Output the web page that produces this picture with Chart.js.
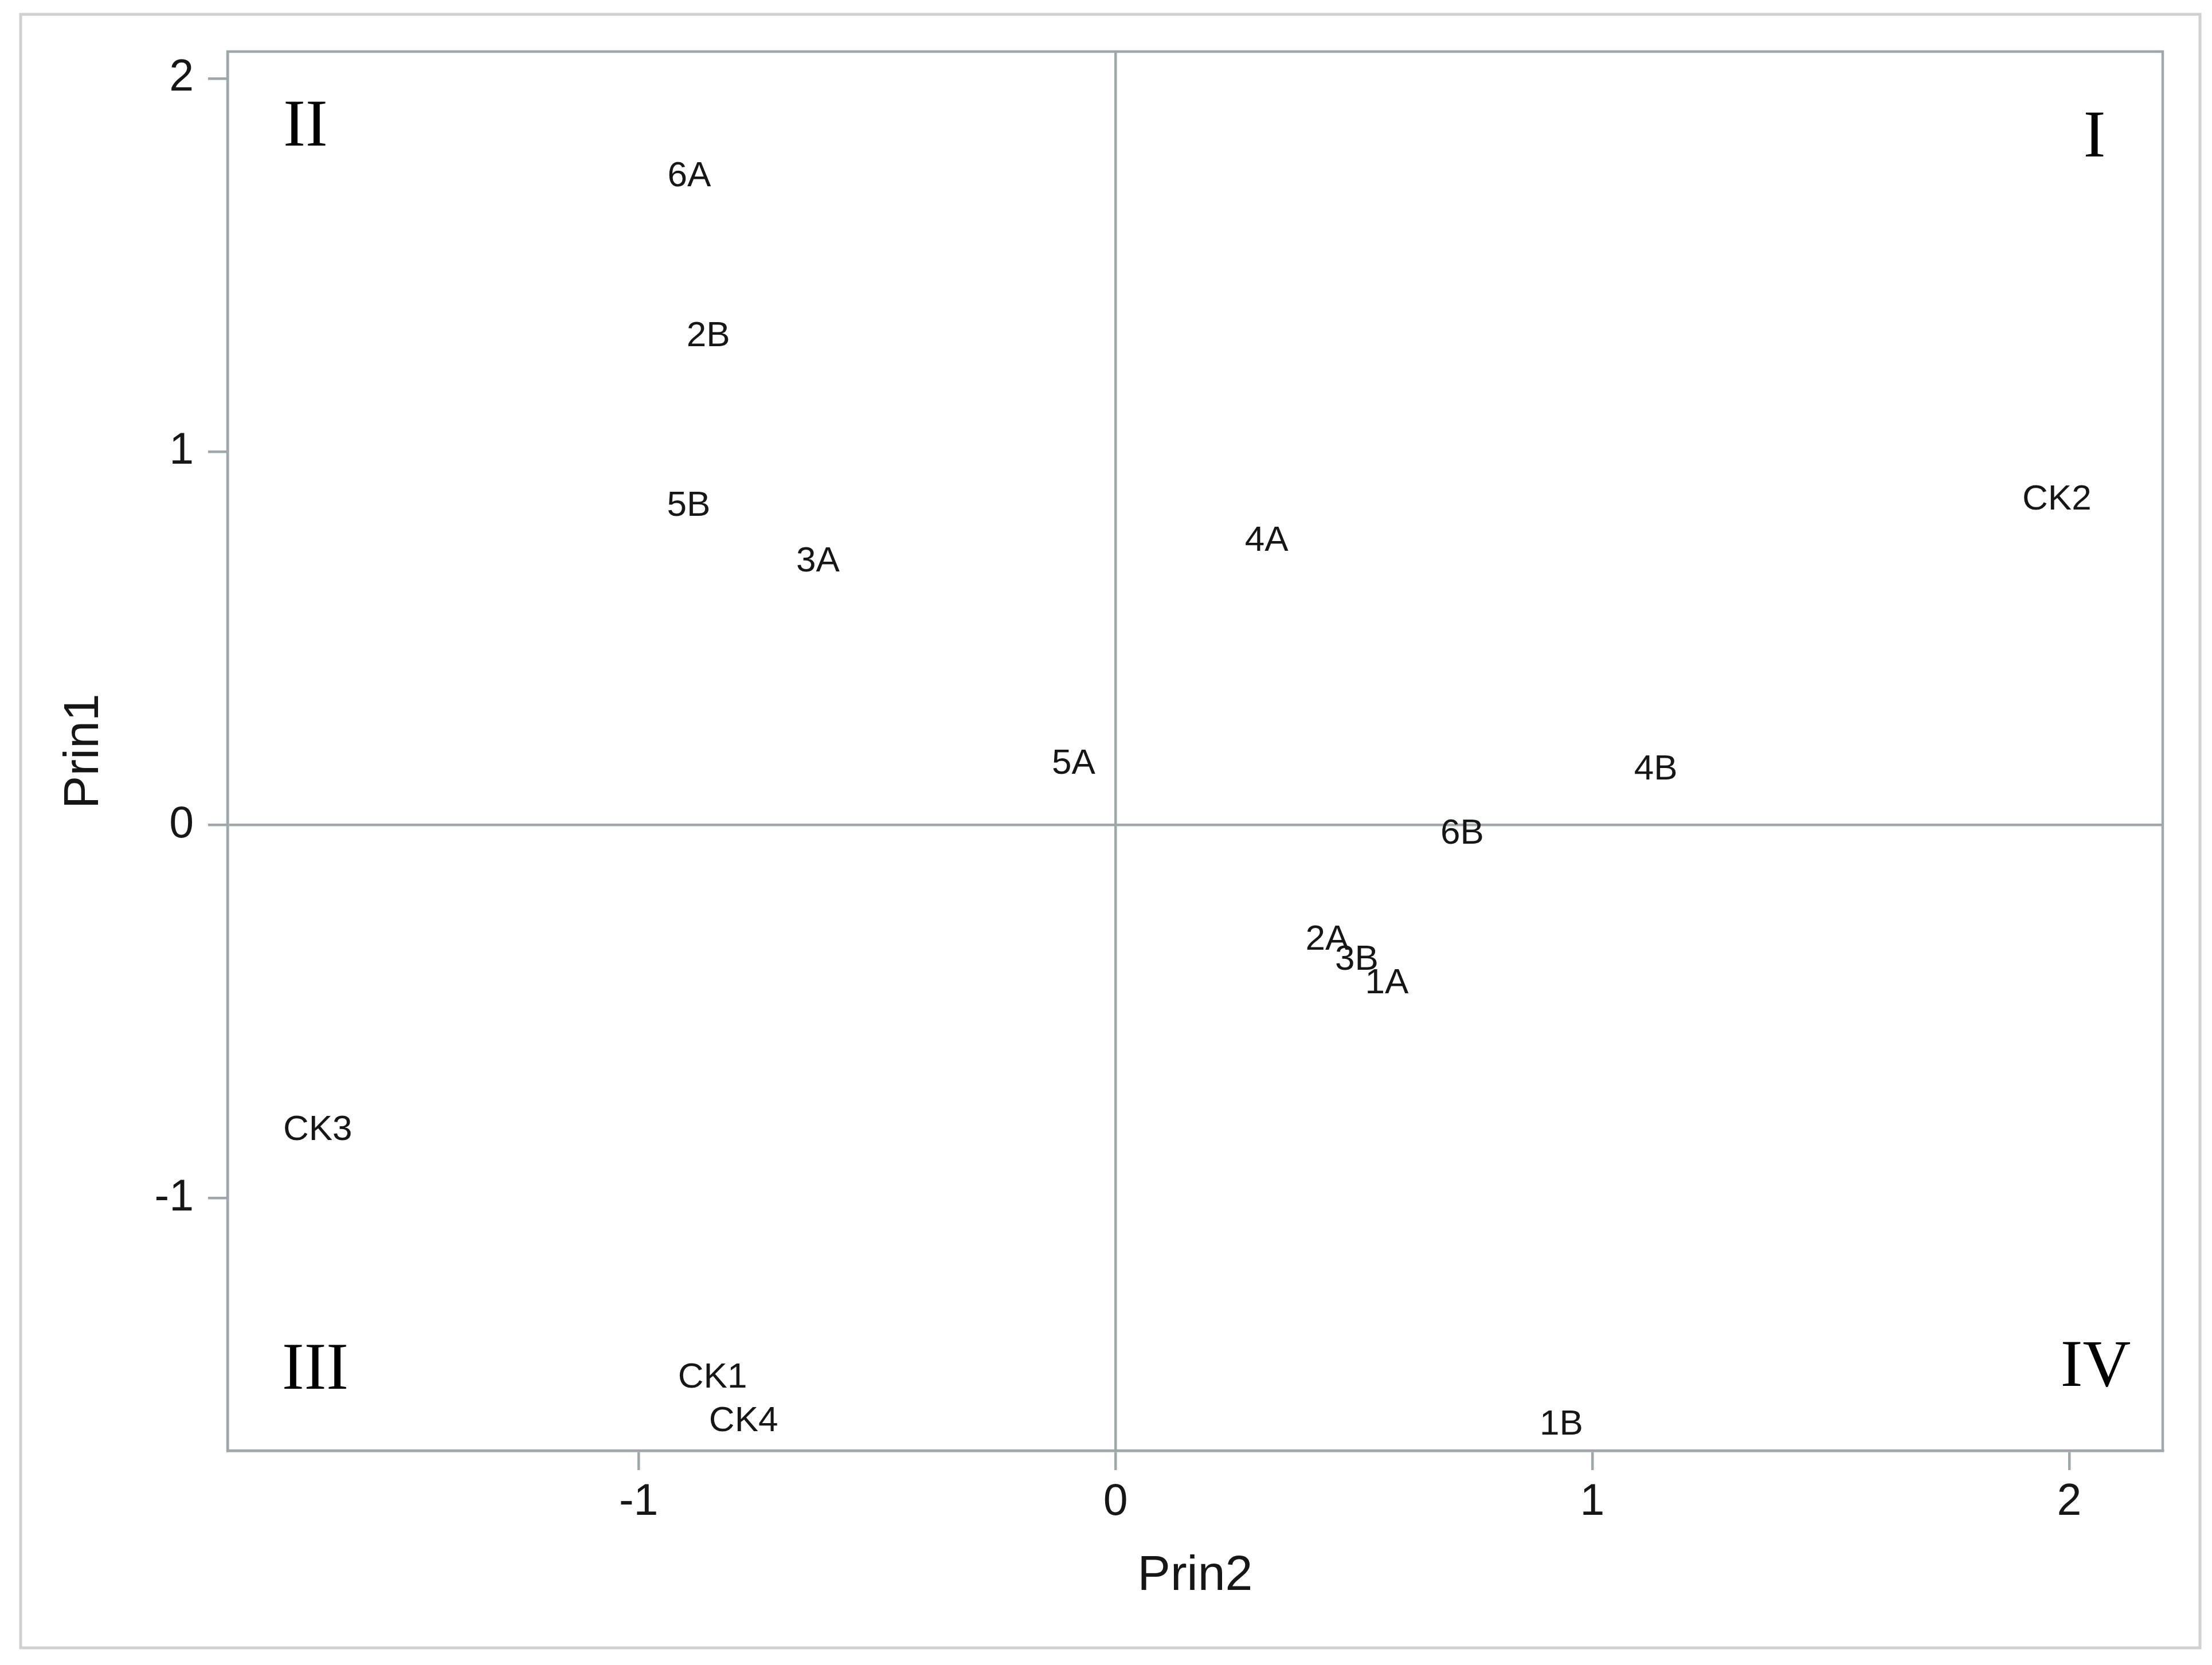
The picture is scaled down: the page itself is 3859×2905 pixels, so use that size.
<!DOCTYPE html>
<html>
<head>
<meta charset="utf-8">
<script src="https://cdn.jsdelivr.net/npm/chart.js@4/dist/chart.umd.min.js"></script>
<style>
  html, body { margin: 0; padding: 0; background: #fff; }
  canvas { display: block; }
</style>
</head>
<body>
<canvas id="pca" width="3859" height="2905"></canvas>
<script>
// PCA scores: Prin2 on x, Prin1 on y
const pointNames = ['6A', '2B', '5B', '3A', '5A', '4A', 'CK2', '4B', '6B', '2A', '3B', '1A', 'CK3', 'CK1', 'CK4', '1B'];
const prin2 = [-0.894, -0.854, -0.895, -0.624, -0.088, 0.317, 1.974, 1.133, 0.727, 0.444, 0.506, 0.569, -1.673, -0.845, -0.780, 0.935];
const prin1 = [1.744, 1.315, 0.861, 0.711, 0.170, 0.767, 0.877, 0.155, -0.018, -0.302, -0.356, -0.419, -0.812, -1.475, -1.591, -1.601];

const xTicks = [-1, 0, 1, 2];
const yTicks = [-1, 0, 1, 2];
const xRange = [-1.862, 2.196];
const yRange = [-1.676, 2.072];

const quadrantNames = ['I', 'II', 'III', 'IV'];

const lineColor = '#9ea7aa';
const textColor = '#161616';

// white page, outer frame, plot frame, quadrant numerals, point labels
const decor = {
  id: 'decor',
  beforeDraw(chart) {
    const ctx = chart.ctx;
    ctx.save();
    ctx.fillStyle = '#fff';
    ctx.fillRect(0, 0, chart.width, chart.height);
    ctx.strokeStyle = '#cfd1d1';
    ctx.lineWidth = 5;
    ctx.strokeRect(36, 25, 3802, 2850);
    ctx.restore();
  },
  afterDatasetsDraw(chart) {
    const ctx = chart.ctx;
    const a = chart.chartArea;
    ctx.save();
    ctx.strokeStyle = lineColor;
    ctx.lineWidth = 4.5;
    ctx.strokeRect(a.left, a.top, a.right - a.left, a.bottom - a.top);

    ctx.fillStyle = '#000';
    ctx.font = '116px "Liberation Serif", "Times New Roman", serif';
    ctx.textAlign = 'center';
    ctx.textBaseline = 'alphabetic';
    ctx.fillText(quadrantNames[0], a.right - 119, a.top + 183);
    ctx.fillText(quadrantNames[1], a.left + 136, a.top + 164);
    ctx.fillText(quadrantNames[2], a.left + 153, a.bottom - 108);
    ctx.fillText(quadrantNames[3], a.right - 117, a.bottom - 113);

    ctx.fillStyle = textColor;
    ctx.font = '62px "Liberation Sans", Arial, sans-serif';
    ctx.textBaseline = 'middle';
    const meta = chart.getDatasetMeta(0);
    meta.data.forEach((el, i) => {
      ctx.fillText(pointNames[i], el.x, el.y + 4);
    });
    ctx.restore();
  }
};

const axisGrid = {
  color: c => (c.tick && c.tick.value === 0 ? lineColor : 'rgba(0,0,0,0)'),
  lineWidth: 4.5,
  tickColor: lineColor,
  tickLength: 34,
  drawTicks: true
};

new Chart(document.getElementById('pca'), {
  type: 'scatter',
  data: {
    datasets: [{
      label: 'scores',
      data: prin2.map((x, i) => ({ x: x, y: prin1[i] })),
      pointRadius: 0,
      pointHoverRadius: 0
    }]
  },
  options: {
    responsive: false,
    animation: false,
    events: [],
    layout: { padding: { left: 0, top: 90, right: 86, bottom: 0 } },
    plugins: { legend: { display: false }, tooltip: { enabled: false } },
    scales: {
      x: {
        type: 'linear',
        min: xRange[0],
        max: xRange[1],
        afterBuildTicks: s => { s.ticks = xTicks.map(v => ({ value: v })); },
        afterFit: s => { s.height = 374; },
        grid: axisGrid,
        border: { display: true, color: lineColor, width: 4.5 },
        ticks: {
          color: textColor,
          padding: 11,
          font: { family: '"Liberation Sans", Arial, sans-serif', size: 77, lineHeight: 1.2 }
        },
        title: {
          display: true,
          text: 'Prin2',
          color: textColor,
          padding: { top: 0, bottom: 103 },
          font: { family: '"Liberation Sans", Arial, sans-serif', size: 86, lineHeight: 1.2 }
        }
      },
      y: {
        type: 'linear',
        min: yRange[0],
        max: yRange[1],
        afterBuildTicks: s => { s.ticks = yTicks.map(v => ({ value: v })); },
        afterFit: s => { s.width = 397; },
        grid: axisGrid,
        border: { display: true, color: lineColor, width: 4.5 },
        ticks: {
          color: textColor,
          padding: 25,
          font: { family: '"Liberation Sans", Arial, sans-serif', size: 77, lineHeight: 1.2 }
        },
        title: {
          display: true,
          text: 'Prin1',
          color: textColor,
          padding: { top: 96, bottom: 0 },
          font: { family: '"Liberation Sans", Arial, sans-serif', size: 86, lineHeight: 1.2 }
        }
      }
    }
  },
  plugins: [decor]
});
</script>
</body>
</html>
